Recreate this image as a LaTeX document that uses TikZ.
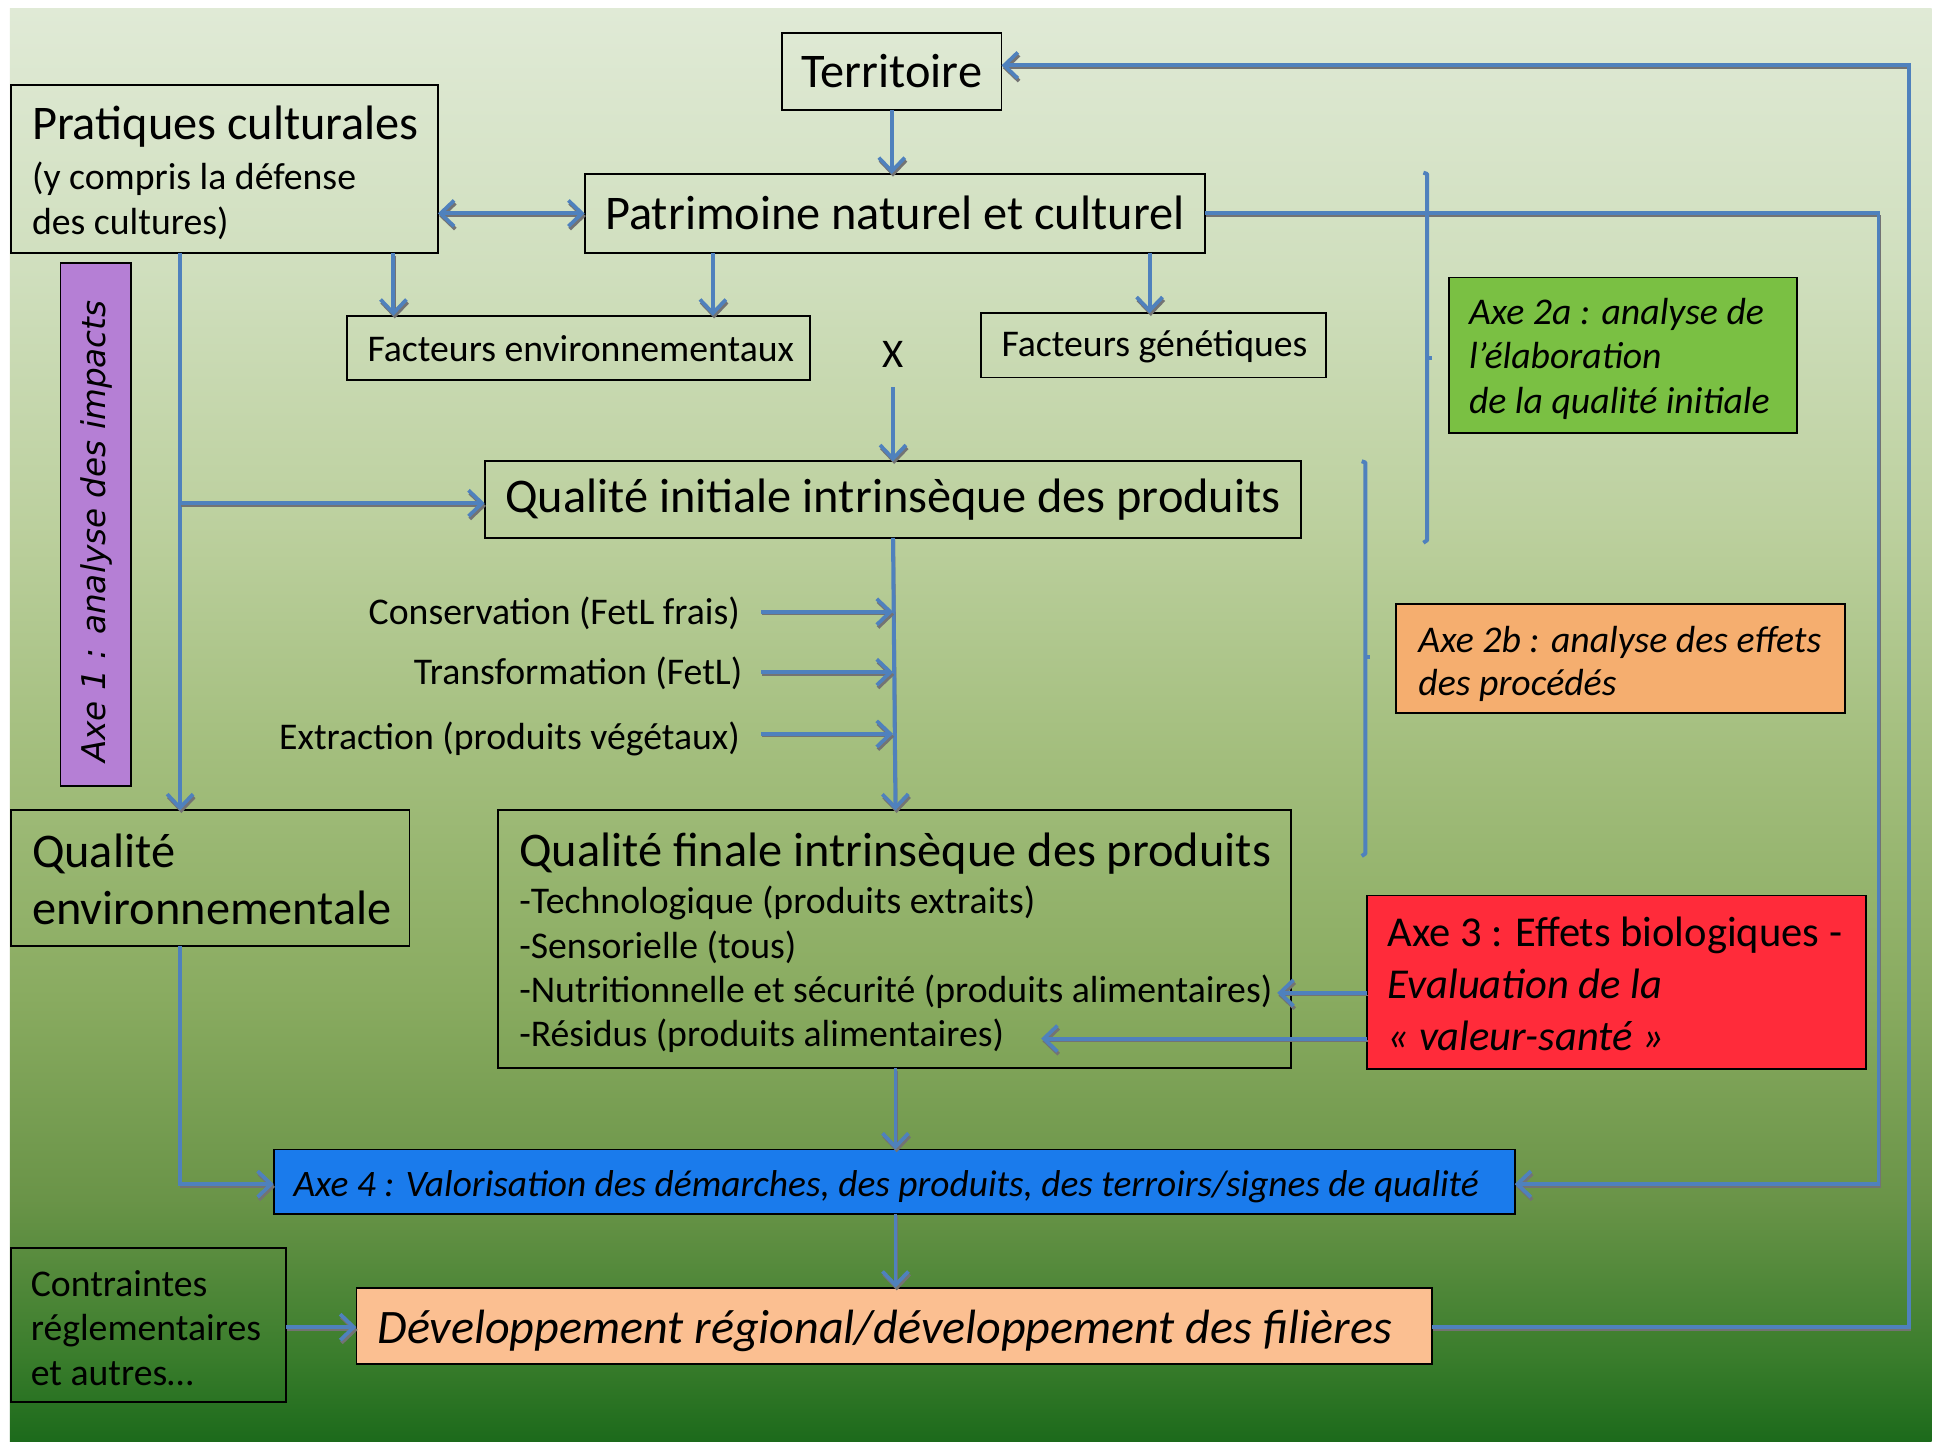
\documentclass[tikz,border=0pt]{standalone}
\usepackage{fontspec}
\setmainfont{Carlito}
\newfontfamily\dejafont{DejaVu Sans}
\usetikzlibrary{arrows.meta,calc}
\definecolor{lblue}{HTML}{4F81BD}
\definecolor{cpurple}{HTML}{B57FD5}
\definecolor{cgreen}{HTML}{7AC043}
\definecolor{corange}{HTML}{F5AE6F}
\definecolor{cred}{HTML}{FF2B3A}
\definecolor{cblue}{HTML}{1A7BEC}
\definecolor{cpeach}{HTML}{FBBF91}
\definecolor{bg0}{HTML}{1C6A1B}
\definecolor{bg1}{HTML}{3A7D2C}
\definecolor{bg2}{HTML}{6A9448}
\definecolor{bg3}{HTML}{89AB60}
\definecolor{bg4}{HTML}{A3BE7D}
\definecolor{bg5}{HTML}{BCD09E}
\definecolor{bg6}{HTML}{D0DFBE}
\definecolor{bg7}{HTML}{E0EAD6}
\pgfdeclareverticalshading{bgshade}{100bp}{color(0bp)=(bg0); color(25bp)=(bg0); color(28bp)=(bg1); color(33.5bp)=(bg2); color(40.5bp)=(bg3); color(49bp)=(bg4); color(57bp)=(bg5); color(66bp)=(bg6); color(75bp)=(bg7); color(100bp)=(bg7)}
\newcommand{\bigf}{\fontsize{39.2}{46}\selectfont}
\newcommand{\smf}{\fontsize{30.6}{36.5}\selectfont}
\tikzset{
  bx/.style={draw=black, line width=1.5pt, inner sep=0pt, outer sep=0pt, anchor=center},
  txt/.style={inner sep=0pt, outer sep=0pt, align=left, anchor=west},
  conn/.style={draw=lblue, line width=3.2pt,
    preaction={draw=black!55, line width=1.4pt, transform canvas={shift={(1pt,-2.2pt)}}}},
  arr/.style={conn, -{Straight Barb[length=11pt,width=21pt,line width=3pt]}},
  darr/.style={conn, {Straight Barb[length=11pt,width=21pt,line width=3pt]}-{Straight Barb[length=11pt,width=21pt,line width=3pt]}},
  brk/.style={draw=lblue, line width=3.2pt, line join=round}
}
\begin{document}
\begin{tikzpicture}[x=1pt,y=-1pt]
\useasboundingbox (0,0) rectangle (1568,1169);
\fill[white] (0,0) rectangle (1568,1169);
\path[shading=bgshade] (8,7) rectangle (1566,1169);

% boxes
\node[bx, minimum width=178pt, minimum height=62pt, font=\bigf] (terr) at (723,58) {Territoire};
\node[bx, minimum width=503pt, minimum height=64pt, font=\bigf] (patr) at (725.5,173) {Patrimoine naturel et culturel};
\node[bx, minimum width=346pt, minimum height=136pt] (prat) at (182,137) {};
\node[txt, font=\smf] (pratt) at ([xshift=17pt,yshift=-3pt]prat.west) {{\bigf Pratiques culturales}\\[4pt](y compris la défense\\des cultures)};
\node[bx, minimum width=376pt, minimum height=52pt] (facenv) at (469,282) {};
\node[txt, font=\smf] (facenvt) at ([xshift=17pt,yshift=-1pt]facenv.west) {Facteurs environnementaux};
\node[bx, minimum width=280pt, minimum height=52pt] (facgen) at (935,280) {};
\node[txt, font=\smf] (facgent) at ([xshift=17pt,yshift=-1pt]facgen.west) {Facteurs génétiques};
\node[inner sep=0pt, font=\fontsize{33}{36}\selectfont] (xx) at (724,287) {X};
\node[bx, minimum width=662pt, minimum height=62pt, font=\bigf] (qinit) at (724,405) {Qualité initiale intrinsèque des produits};

\node[inner sep=0pt, anchor=east, font=\smf] (cons) at (600,497) {Conservation (FetL frais)};
\node[inner sep=0pt, anchor=east, font=\smf] (trans) at (602,546) {Transformation (FetL)};
\node[inner sep=0pt, anchor=east, font=\smf] (extr) at (600,599) {Extraction (produits végétaux)};

\node[bx, minimum width=643pt, minimum height=209pt] (qfin) at (725.5,761.5) {};
\node[txt, font=\bigf] (qf0) at (421,692) {Qualité finale intrinsèque des produits};
\node[txt, font=\smf] (qf1) at (421,732) {-Technologique (produits extraits)};
\node[txt, font=\smf] (qf2) at (421,768) {-Sensorielle (tous)};
\node[txt, font=\smf] (qf3) at (421,804) {-Nutritionnelle et sécurité (produits alimentaires)};
\node[txt, font=\smf] (qf4) at (421,840) {-Résidus (produits alimentaires)};

\node[bx, minimum width=323pt, minimum height=110pt] (qenv) at (170.5,712) {};
\node[txt, font=\bigf] (qenvt) at ([xshift=17pt,yshift=-1pt]qenv.west) {Qualité\\environnementale};

\node[bx, fill=cpurple, minimum width=57pt, minimum height=424pt] (axe1) at (77.5,425) {};
\node[inner sep=0pt, rotate=90, font=\dejafont\itshape\fontsize{26.5}{30}\selectfont] (axe1t) at ($(axe1.center)+(1,6)$) {Axe 1 : analyse des impacts};

\node[bx, fill=cgreen, minimum width=282pt, minimum height=126pt] (axe2a) at (1316,288) {};
\node[txt, font=\fontsize{30.6}{36}\selectfont\itshape] (axe2at) at ([xshift=16pt,yshift=-3pt]axe2a.west) {Axe 2a : analyse de\\l’élaboration\\de la qualité initiale};

\node[bx, fill=corange, minimum width=364pt, minimum height=88pt] (axe2b) at (1314,534) {};
\node[txt, font=\fontsize{30.6}{35}\selectfont\itshape] (axe2bt) at ([xshift=18pt,yshift=-4pt]axe2b.west) {Axe 2b : analyse des effets\\des procédés};

\node[bx, fill=cred, minimum width=405pt, minimum height=141pt] (axe3) at (1310.5,796.5) {};
\node[txt, font=\fontsize{34.5}{42}\selectfont] (axe3t) at ([xshift=17pt,yshift=-1pt]axe3.west) {Axe 3 : Effets biologiques -\\\itshape Evaluation de la\\\itshape « valeur-santé »};

\node[bx, fill=cblue, minimum width=1006pt, minimum height=52pt] (axe4) at (725,958) {};
\node[txt, font=\fontsize{30.3}{34}\selectfont\itshape] (axe4t) at ([xshift=16pt,yshift=-4pt]axe4.west) {Axe 4 : Valorisation des démarches, des produits, des terroirs/signes de qualité};

\node[bx, fill=cpeach, minimum width=872pt, minimum height=62pt] (dev) at (725,1075) {};
\node[txt, font=\fontsize{39}{46}\selectfont\itshape] (devt) at ([xshift=17pt,yshift=-4pt]dev.west) {Développement régional/développement des filières};

\node[bx, minimum width=223pt, minimum height=125pt] (contr) at (120.5,1074.5) {};
\node[txt, font=\fontsize{30.6}{36}\selectfont] (contrt) at ([xshift=16pt,yshift=-2pt]contr.west) {Contraintes\\réglementaires\\et autres…};

% helper coordinates
\coordinate (c319) at (319,0);
\coordinate (c578) at (578,0);
\coordinate (c932) at (932,0);
\coordinate (c146) at (146,0);
\coordinate (c1523) at (1523,0);
\coordinate (c1548) at (1548,0);
\coordinate (cqi) at (724,0);

% connectors
\draw[arr] (terr.south) -- (terr.south |- patr.north);
\draw[darr] (prat.east |- patr.west) -- (patr.west);
\draw[arr] (c319 |- prat.south) -- (c319 |- facenv.north);
\draw[arr] (c578 |- patr.south) -- (c578 |- facenv.north);
\draw[arr] (c932 |- patr.south) -- (c932 |- facgen.north);
\draw[arr] ([yshift=-16pt]xx.south) -- (xx.south |- qinit.north);
\draw[arr] (c146 |- prat.south) -- (c146 |- qenv.north);
\draw[arr] ($(c146 |- qinit.west)+(0,3)$) -- ($(qinit.west)+(0,3)$);
\draw[arr] (cqi |- qinit.south) -- ($(cqi |- qfin.north)+(2,0)$);
\draw[arr] ($(cons.east)+(17,-1)$) -- ($(cqi |- cons.east)+(0,-1)$);
\draw[arr] ($(trans.east)+(15,-1)$) -- ($(cqi |- trans.east)+(0,-1)$);
\draw[arr] ($(extr.east)+(17,-4)$) -- ($(cqi |- extr.east)+(0,-4)$);
\draw[arr] (c146 |- qenv.south) -- ($(c146 |- axe4.west)+(0,2)$) -- ($(axe4.west)+(0,2)$);
\draw[arr] ($(qfin.south)+(0.5,0)$) -- ($(axe4.north)+(1,0)$);
\draw[arr] ($(axe4.south)+(1,0)$) -- ($(dev.north)+(1,0)$);
\draw[arr] ($(contr.east)+(0,1.5)$) -- ($(dev.west)+(0,1)$);
\draw[arr] ($(axe3.west |- qf3.east)+(0,1)$) -- ($(qf3.east)+(4,1)$);
\draw[arr] ($(axe3.west |- qf4.east)+(0,2)$) -- ($(qf4.east)+(30,2)$);
\draw[arr] (patr.east) -- (c1523 |- patr.east) -- ($(c1523 |- axe4.east)+(0,2)$) -- ($(axe4.east)+(0,2)$);
\draw[arr] ($(dev.east)+(0,1)$) -- ($(c1548 |- dev.east)+(0,1)$) -- ($(c1548 |- terr.east)+(0,-5)$) -- ($(terr.east)+(0,-5)$);

% brackets
\draw[brk] (1154,140) -- (1157,141) -- (1157,438) -- (1154,440);
\draw[brk] (1157,290) -- (1161,290);
\draw[brk] (1104,374) -- (1107,375) -- (1107,692) -- (1104,694);
\draw[brk] (1107,533) -- (1111,533);
\end{tikzpicture}
\end{document}
